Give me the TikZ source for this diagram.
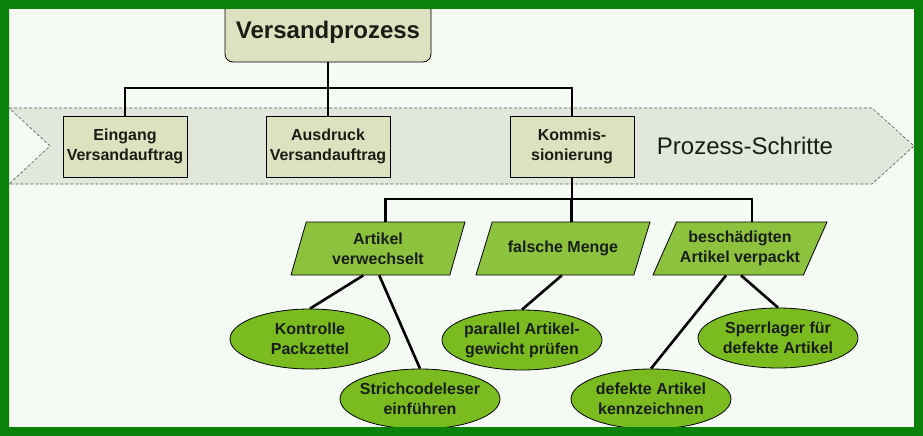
\documentclass[tikz,border=0pt]{standalone}
\usepackage{fontspec}
\setmainfont{Liberation Sans}
\usetikzlibrary{shapes.geometric}

\definecolor{frame}{RGB}{10,130,10}
\definecolor{paper}{RGB}{246,250,244}
\definecolor{bandfill}{RGB}{226,231,220}
\definecolor{boxfill}{RGB}{220,226,192}
\definecolor{parfill}{RGB}{140,194,62}
\definecolor{ellfill}{RGB}{122,188,32}
\definecolor{ink}{RGB}{25,30,20}

\begin{document}
\begin{tikzpicture}
		[x=1pt, y=-1pt, line width=2.6pt,
		 box/.style = {draw, line width=0.8pt, fill=boxfill, text=ink, minimum width=124pt, minimum height=61pt, inner sep=1pt, align=center, font=\fontsize{16}{20}\selectfont\bfseries},
		 par/.style = {draw, line width=0.8pt, fill=parfill, text=ink, trapezium, trapezium left angle=73, trapezium right angle=107, trapezium stretches body=true, minimum width=174pt, minimum height=53pt, inner xsep=-12pt, inner ysep=9pt, align=center, font=\fontsize{16}{20}\selectfont\bfseries},
		 ell/.style = {draw, ellipse, line width=0.8pt, fill=ellfill, text=ink, minimum width=160pt, minimum height=60pt, inner sep=-14pt, align=center, font=\fontsize{16}{20}\selectfont\bfseries}]
        % background and band
        \fill[paper] (0,0) rectangle (923,436);
        \filldraw[fill=bandfill, draw=black!65, line width=0.6pt, dash pattern=on 3pt off 2pt] (9,108) -- (872,108) -- (914,146) -- (872,184) -- (9,184) -- (50,146) -- cycle;

        \node[box, rounded corners=8pt, minimum width=206pt, minimum height=60pt, font=\fontsize{24}{28}\selectfont\bfseries] (vp) at (328,32) {Versandprozess};
        \node[box] (ev) at (125,146.5) {Eingang\\Versandauftrag};
        \node[box] (av) at (328,146.5) {Ausdruck\\Versandauftrag};
        \node[box] (ko) at (572,146.5) {Kommis-\\sionierung};
        \node[text=ink, font=\fontsize{24}{28}\selectfont] (ps) at (745,146) {Prozess-Schritte};

        \node[par] (aw) at (378,248.5) {Artikel\\verwechselt};
        \node[par, inner ysep=19pt] (fm) at (563,248.5) {falsche Menge};
        \node[par, trapezium left angle=66, trapezium right angle=114] (ba) at (740,248.5) {beschädigten\\Artikel verpackt};

        \node[ell] (kp) at (310,339) {Kontrolle\\Packzettel};
        \node[ell] (sc) at (420,399) {Strichcodeleser\\einführen};
        \node[ell] (pg) at (522,340) {parallel Artikel-\\gewicht prüfen};
        \node[ell] (dk) at (651,399) {defekte Artikel\\kennzeichnen};
        \node[ell] (sl) at (778,338) {Sperrlager für\\defekte Artikel};

        \coordinate (j1) at (328,88);
        \coordinate (j2) at (572,199);

        \draw (vp.south) -- (j1);
        \draw (j1) -| (ev.north);
        \draw (j1) -- (av.north);
        \draw (j1) -| (ko.north);
        \draw (ko.south) -- (j2);
        \draw (j2) -| (aw.top side);
        \draw (j2) -| (fm.top side);
        \draw (j2) -| (ba.top side);

        \draw ([xshift=-7pt]aw.bottom side) -- (kp.north);
        \draw ([xshift=9pt]aw.bottom side) -- (sc.north);
        \draw ([xshift=7pt]fm.bottom side) -- (pg.north);
        \draw ([xshift=-2pt]ba.bottom side) -- (dk.north);
        \draw ([xshift=13pt]ba.bottom side) -- (sl.north);

        % frame
        \fill[frame, even odd rule] (0,0) rectangle (923,436) (9,9) rectangle (914,427);
	\end{tikzpicture}
\end{document}
